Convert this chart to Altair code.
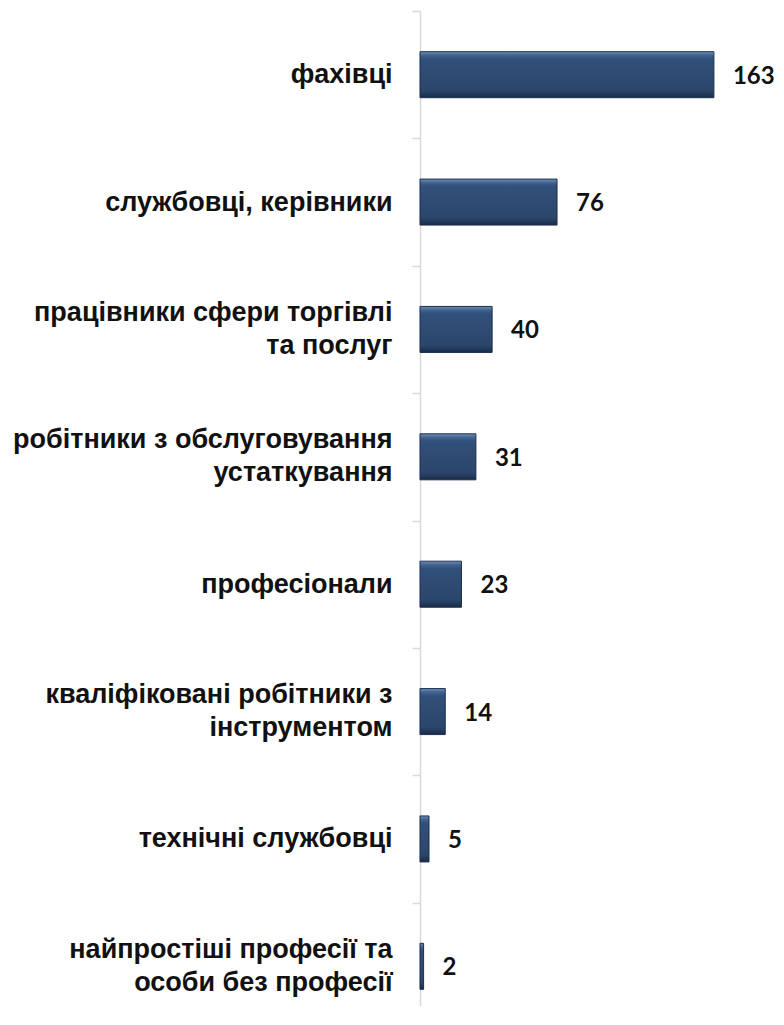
import altair as alt
import pandas as pd

categories = [
    "фахівці",
    "службовці,  керівники",
    "працівники  сфери торгівлі\nта  послуг",
    "робітники  з обслуговування\nустаткування",
    "професіонали",
    "кваліфіковані  робітники  з\nінструментом",
    "технічні  службовці",
    "найпростіші  професії та\nособи без професії",
]
values = [163, 76, 40, 31, 23, 14, 5, 2]

df = pd.DataFrame({"cat": categories, "val": values})

bar_fill = alt.LinearGradient(
    gradient="linear",
    x1=0, x2=0, y1=0, y2=1,
    stops=[
        alt.GradientStop(color="#6f8fba", offset=0),
        alt.GradientStop(color="#42638f", offset=0.08),
        alt.GradientStop(color="#31507a", offset=0.16),
        alt.GradientStop(color="#2b466b", offset=0.84),
        alt.GradientStop(color="#223a5c", offset=0.92),
        alt.GradientStop(color="#182a44", offset=1),
    ],
)

multi = "length(split(datum.value, '\\n')) > 1"

y_enc = alt.Y(
    "cat:N",
    sort=categories,
    scale=alt.Scale(range=[0, 1019], paddingInner=0, paddingOuter=0),
    axis=alt.Axis(
        title=None,
        tickBand="extent",
        tickSize=8,
        tickColor="#d9d9d9",
        tickWidth=1.5,
        domainColor="#d9d9d9",
        domainWidth=1.5,
        labelAlign="right",
        labelPadding=20,
        labelFont="Liberation Sans",
        labelFontWeight="bold",
        labelFontSize=27,
        labelColor="#111111",
        labelLineHeight=33,
        labelLimit=500,
        labelBaseline={"condition": {"test": multi, "value": "line-bottom"}, "value": "middle"},
        labelExpr="split(datum.label, '\\n')",
    ),
)

x_enc = alt.X("val:Q", scale=alt.Scale(domain=[0, 193]), axis=None)

bars = alt.Chart(df).mark_bar(
    size=46, color=bar_fill, stroke="#1c2f4c", strokeWidth=1
).encode(x=x_enc, y=y_enc)

labels = alt.Chart(df).mark_text(
    align="left", baseline="middle", dx=19, dy=2, font="Lato",
    fontWeight="bold", fontSize=24, color="#111111"
).encode(x=x_enc, y=alt.Y("cat:N", sort=categories), text="val:Q")

chart = alt.layer(bars, labels).properties(
    width=348,
    height=995,
    padding={"left": 412, "top": 3, "right": 8, "bottom": 0},
    autosize=alt.AutoSizeParams(type="none"),
).configure_view(stroke=None)

chart.save("out.html", embed_options={"renderer": "svg", "actions": False})
